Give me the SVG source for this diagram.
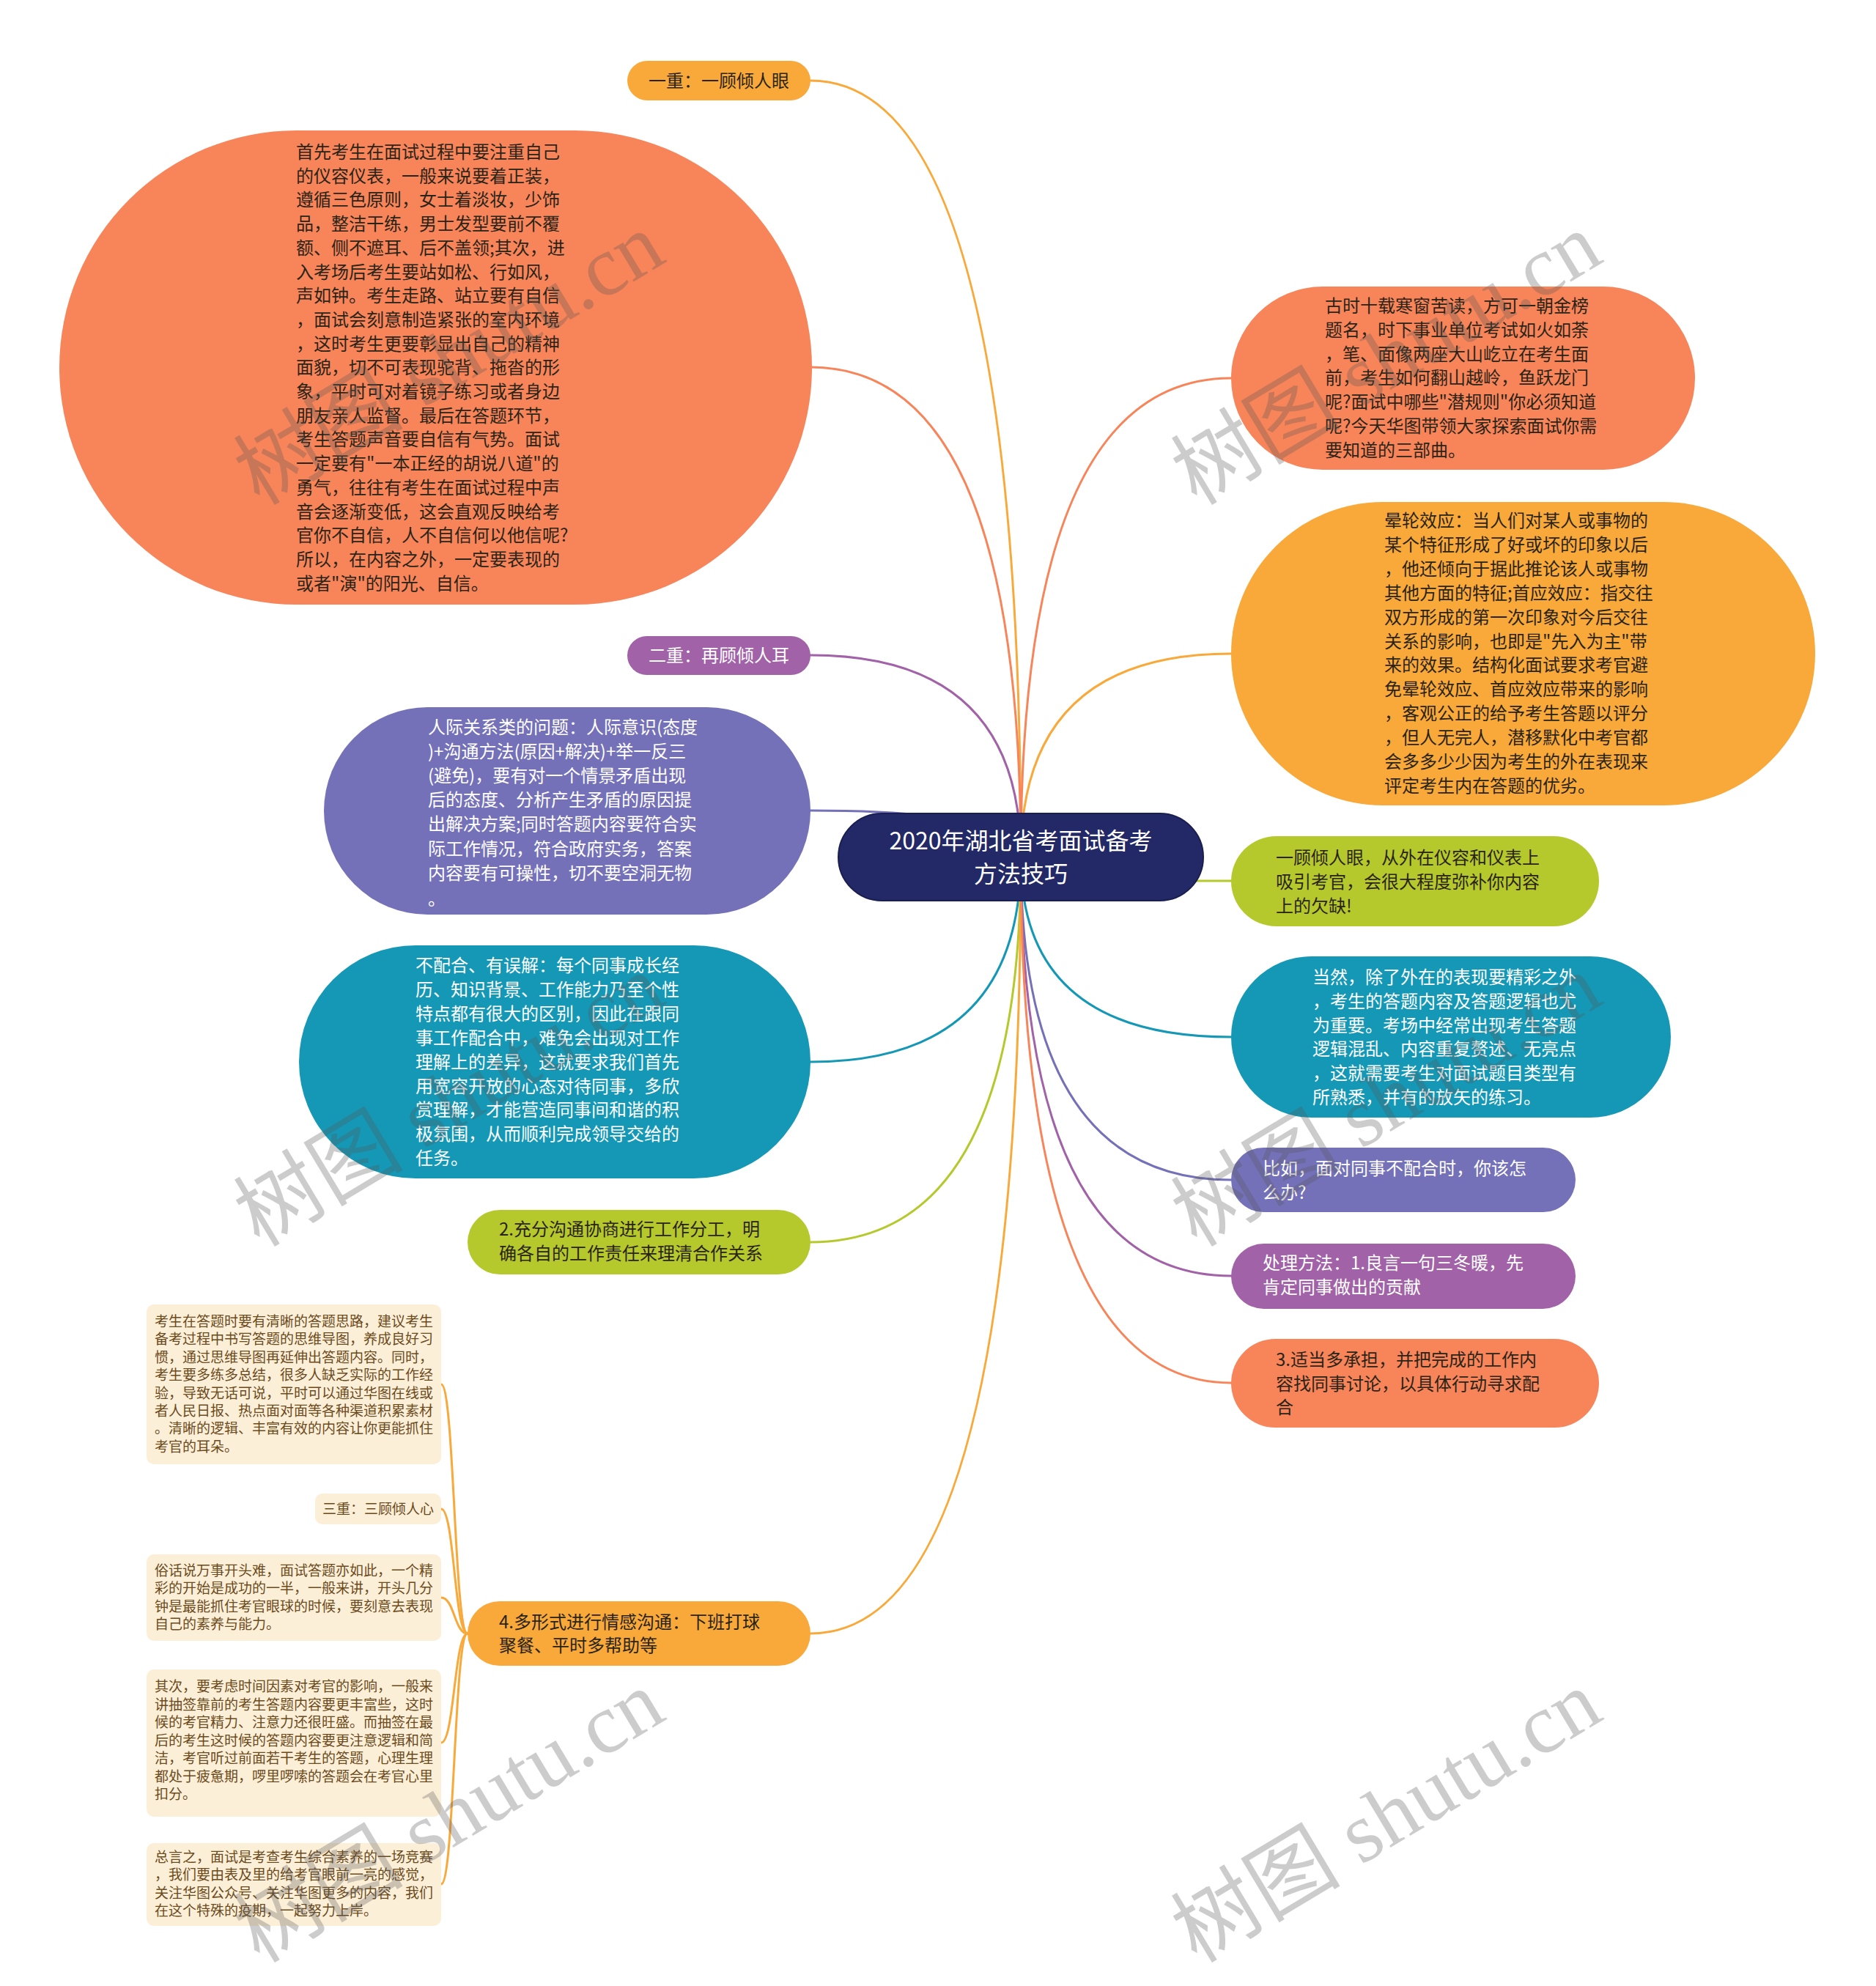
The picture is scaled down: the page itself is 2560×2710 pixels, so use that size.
<svg xmlns="http://www.w3.org/2000/svg" width="2560" height="2710" viewBox="0 0 2560 2710">
<style>
text{font-family:"Noto Sans CJK SC","Noto Sans",sans-serif}
.t24{font-size:24px}
.t19{font-size:19px}
.t32{font-size:32px}
.dk{fill:#2a2418}
.wt{fill:#ffffff}
.br{fill:#6b4a1c}
.c{fill:none;stroke-width:3;stroke-linecap:round}
.coral{fill:#F8845A}
.orng{fill:#F9A93A}
.lime{fill:#B6C92C}
.teal{fill:#1598B6}
.indi{fill:#7471B9}
.magn{fill:#A162A8}
.beige{fill:#FCEFD8}
.wm{font-family:"Liberation Serif","Noto Sans CJK SC",serif;font-size:116px;fill:#555;fill-opacity:0.3}
</style>
<rect width="2560" height="2710" fill="#ffffff"/>
<g id="connectors">
<path class="c" stroke="#F9A93A" d="M1393,1170 Q1393,110 1106,110"/>
<path class="c" stroke="#F8845A" d="M1393,1170 Q1393,501 1106,501"/>
<path class="c" stroke="#A162A8" d="M1393,1170 Q1393,894 1106,894"/>
<path class="c" stroke="#7471B9" d="M1393,1170 Q1393,1106 1106,1106"/>
<path class="c" stroke="#1598B6" d="M1393,1170 Q1393,1449 1106,1449"/>
<path class="c" stroke="#B6C92C" d="M1393,1170 Q1393,1695 1106,1695"/>
<path class="c" stroke="#F9A93A" d="M1393,1170 Q1393,2229 1106,2229"/>
<path class="c" stroke="#F8845A" d="M1393,1170 Q1393,516 1680,516"/>
<path class="c" stroke="#F9A93A" d="M1393,1170 Q1393,892 1680,892"/>
<path class="c" stroke="#B6C92C" d="M1393,1170 Q1393,1202 1680,1202"/>
<path class="c" stroke="#1598B6" d="M1393,1170 Q1393,1415 1680,1415"/>
<path class="c" stroke="#7471B9" d="M1393,1170 Q1393,1610 1680,1610"/>
<path class="c" stroke="#A162A8" d="M1393,1170 Q1393,1741 1680,1741"/>
<path class="c" stroke="#F8845A" d="M1393,1170 Q1393,1887 1680,1887"/>
<path class="c" stroke="#F9A93A" stroke-width="2.5" d="M602,1889 C620,1889 620,2229 638,2229"/>
<path class="c" stroke="#F9A93A" stroke-width="2.5" d="M602,2059 C620,2059 620,2229 638,2229"/>
<path class="c" stroke="#F9A93A" stroke-width="2.5" d="M602,2180 C620,2180 620,2229 638,2229"/>
<path class="c" stroke="#F9A93A" stroke-width="2.5" d="M602,2378 C620,2378 620,2229 638,2229"/>
<path class="c" stroke="#F9A93A" stroke-width="2.5" d="M602,2571 C620,2571 620,2229 638,2229"/>
</g>
<g id="center">
<rect x="1144" y="1110" width="498" height="119" rx="59.5" fill="#232966" stroke="#1a1f50" stroke-width="2"/>
<text class="t32 wt" text-anchor="middle"><tspan x="1393" y="1159">2020年湖北省考面试备考</tspan><tspan x="1393" y="1204">方法技巧</tspan></text>
</g>
<g id="n-yizhong">
<rect class="orng" x="856" y="83" width="250" height="54" rx="27"/>
<text class="t24 dk" text-anchor="middle" x="981" y="119">一重：一顾倾人眼</text>
</g>
<g id="n-yirong">
<rect class="coral" x="81" y="178" width="1027" height="647" rx="323.5"/>
<text class="t24 dk"><tspan x="404" y="216">首先考生在面试过程中要注重自己</tspan><tspan x="404" dy="32.7">的仪容仪表，一般来说要着正装，</tspan><tspan x="404" dy="32.7">遵循三色原则，女士着淡妆，少饰</tspan><tspan x="404" dy="32.7">品，整洁干练，男士发型要前不覆</tspan><tspan x="404" dy="32.7">额、侧不遮耳、后不盖领;其次，进</tspan><tspan x="404" dy="32.7">入考场后考生要站如松、行如风，</tspan><tspan x="404" dy="32.7">声如钟。考生走路、站立要有自信</tspan><tspan x="404" dy="32.7">，面试会刻意制造紧张的室内环境</tspan><tspan x="404" dy="32.7">，这时考生更要彰显出自己的精神</tspan><tspan x="404" dy="32.7">面貌，切不可表现驼背、拖沓的形</tspan><tspan x="404" dy="32.7">象，平时可对着镜子练习或者身边</tspan><tspan x="404" dy="32.7">朋友亲人监督。最后在答题环节，</tspan><tspan x="404" dy="32.7">考生答题声音要自信有气势。面试</tspan><tspan x="404" dy="32.7">一定要有"一本正经的胡说八道"的</tspan><tspan x="404" dy="32.7">勇气，往往有考生在面试过程中声</tspan><tspan x="404" dy="32.7">音会逐渐变低，这会直观反映给考</tspan><tspan x="404" dy="32.7">官你不自信，人不自信何以他信呢?</tspan><tspan x="404" dy="32.7">所以，在内容之外，一定要表现的</tspan><tspan x="404" dy="32.7">或者"演"的阳光、自信。</tspan></text>
</g>
<g id="n-erzhong">
<rect class="magn" x="856" y="868" width="250" height="53" rx="26.5"/>
<text class="t24 wt" text-anchor="middle" x="981" y="903">二重：再顾倾人耳</text>
</g>
<g id="n-renji">
<rect class="indi" x="442" y="965" width="664" height="283" rx="141.5"/>
<text class="t24 wt"><tspan x="584" y="1001">人际关系类的问题：人际意识(态度</tspan><tspan x="584" dy="33.1">)+沟通方法(原因+解决)+举一反三</tspan><tspan x="584" dy="33.1">(避免)，要有对一个情景矛盾出现</tspan><tspan x="584" dy="33.1">后的态度、分析产生矛盾的原因提</tspan><tspan x="584" dy="33.1">出解决方案;同时答题内容要符合实</tspan><tspan x="584" dy="33.1">际工作情况，符合政府实务，答案</tspan><tspan x="584" dy="33.1">内容要有可操性，切不要空洞无物</tspan><tspan x="584" dy="35">。</tspan></text>
</g>
<g id="n-bupeihe">
<rect class="teal" x="408" y="1290" width="698" height="318" rx="159"/>
<text class="t24 wt"><tspan x="567" y="1326">不配合、有误解：每个同事成长经</tspan><tspan x="567" dy="32.9">历、知识背景、工作能力乃至个性</tspan><tspan x="567" dy="32.9">特点都有很大的区别，因此在跟同</tspan><tspan x="567" dy="32.9">事工作配合中，难免会出现对工作</tspan><tspan x="567" dy="32.9">理解上的差异，这就要求我们首先</tspan><tspan x="567" dy="32.9">用宽容开放的心态对待同事，多欣</tspan><tspan x="567" dy="32.9">赏理解，才能营造同事间和谐的积</tspan><tspan x="567" dy="32.9">极氛围，从而顺利完成领导交给的</tspan><tspan x="567" dy="32.9">任务。</tspan></text>
</g>
<g id="n-chongfen">
<rect class="lime" x="638" y="1651" width="468" height="88" rx="44"/>
<text class="t24 dk"><tspan x="681" y="1686">2.充分沟通协商进行工作分工，明</tspan><tspan x="681" dy="33">确各自的工作责任来理清合作关系</tspan></text>
</g>
<g id="n-duoxingshi">
<rect class="orng" x="638" y="2185" width="468" height="88" rx="44"/>
<text class="t24 dk"><tspan x="681" y="2222">4.多形式进行情感沟通：下班打球</tspan><tspan x="681" dy="32">聚餐、平时多帮助等</tspan></text>
</g>
<g id="n-gushi">
<rect class="coral" x="1680" y="391" width="633" height="250" rx="125"/>
<text class="t24 dk"><tspan x="1808" y="426">古时十载寒窗苦读，方可一朝金榜</tspan><tspan x="1808" dy="32.8">题名，时下事业单位考试如火如荼</tspan><tspan x="1808" dy="32.8">，笔、面像两座大山屹立在考生面</tspan><tspan x="1808" dy="32.8">前，考生如何翻山越岭，鱼跃龙门</tspan><tspan x="1808" dy="32.8">呢?面试中哪些"潜规则"你必须知道</tspan><tspan x="1808" dy="32.8">呢?今天华图带领大家探索面试你需</tspan><tspan x="1808" dy="32.8">要知道的三部曲。</tspan></text>
</g>
<g id="n-yunlun">
<rect class="orng" x="1680" y="685" width="797" height="414" rx="207"/>
<text class="t24 dk"><tspan x="1889" y="719">晕轮效应：当人们对某人或事物的</tspan><tspan x="1889" dy="32.9">某个特征形成了好或坏的印象以后</tspan><tspan x="1889" dy="32.9">，他还倾向于据此推论该人或事物</tspan><tspan x="1889" dy="32.9">其他方面的特征;首应效应：指交往</tspan><tspan x="1889" dy="32.9">双方形成的第一次印象对今后交往</tspan><tspan x="1889" dy="32.9">关系的影响，也即是"先入为主"带</tspan><tspan x="1889" dy="32.9">来的效果。结构化面试要求考官避</tspan><tspan x="1889" dy="32.9">免晕轮效应、首应效应带来的影响</tspan><tspan x="1889" dy="32.9">，客观公正的给予考生答题以评分</tspan><tspan x="1889" dy="32.9">，但人无完人，潜移默化中考官都</tspan><tspan x="1889" dy="32.9">会多多少少因为考生的外在表现来</tspan><tspan x="1889" dy="32.9">评定考生内在答题的优劣。</tspan></text>
</g>
<g id="n-yigu">
<rect class="lime" x="1680" y="1141" width="502" height="123" rx="61.5"/>
<text class="t24 dk"><tspan x="1741" y="1179">一顾倾人眼，从外在仪容和仪表上</tspan><tspan x="1741" dy="33">吸引考官，会很大程度弥补你内容</tspan><tspan x="1741" dy="33">上的欠缺!</tspan></text>
</g>
<g id="n-dangran">
<rect class="teal" x="1680" y="1305" width="600" height="220" rx="110"/>
<text class="t24 wt"><tspan x="1791" y="1342">当然，除了外在的表现要精彩之外</tspan><tspan x="1791" dy="32.8">，考生的答题内容及答题逻辑也尤</tspan><tspan x="1791" dy="32.8">为重要。考场中经常出现考生答题</tspan><tspan x="1791" dy="32.8">逻辑混乱、内容重复赘述、无亮点</tspan><tspan x="1791" dy="32.8">，这就需要考生对面试题目类型有</tspan><tspan x="1791" dy="32.8">所熟悉，并有的放矢的练习。</tspan></text>
</g>
<g id="n-biru">
<rect class="indi" x="1680" y="1566" width="470" height="88" rx="44"/>
<text class="t24 wt"><tspan x="1723" y="1603">比如，面对同事不配合时，你该怎</tspan><tspan x="1723" dy="33">么办?</tspan></text>
</g>
<g id="n-chuli">
<rect class="magn" x="1680" y="1697" width="470" height="89" rx="44.5"/>
<text class="t24 wt"><tspan x="1723" y="1732">处理方法：1.良言一句三冬暖，先</tspan><tspan x="1723" dy="33">肯定同事做出的贡献</tspan></text>
</g>
<g id="n-shidang">
<rect class="coral" x="1680" y="1827" width="502" height="121" rx="60.5"/>
<text class="t24 dk"><tspan x="1741" y="1864">3.适当多承担，并把完成的工作内</tspan><tspan x="1741" dy="32.7">容找同事讨论，以具体行动寻求配</tspan><tspan x="1741" dy="32.7">合</tspan></text>
</g>
<g id="n-kaosheng">
<rect class="beige" x="200" y="1780" width="402" height="218" rx="10"/>
<text class="t19 br"><tspan x="211" y="1810">考生在答题时要有清晰的答题思路，建议考生</tspan><tspan x="211" dy="24.4">备考过程中书写答题的思维导图，养成良好习</tspan><tspan x="211" dy="24.4">惯，通过思维导图再延伸出答题内容。同时，</tspan><tspan x="211" dy="24.4">考生要多练多总结，很多人缺乏实际的工作经</tspan><tspan x="211" dy="24.4">验，导致无话可说，平时可以通过华图在线或</tspan><tspan x="211" dy="24.4">者人民日报、热点面对面等各种渠道积累素材</tspan><tspan x="211" dy="24.4">。清晰的逻辑、丰富有效的内容让你更能抓住</tspan><tspan x="211" dy="24.4">考官的耳朵。</tspan></text>
</g>
<g id="n-sanzhong">
<rect class="beige" x="430" y="2038" width="172" height="42" rx="10"/>
<text class="t19 br" text-anchor="middle" x="516" y="2066">三重：三顾倾人心</text>
</g>
<g id="n-suhua">
<rect class="beige" x="200" y="2121" width="402" height="118" rx="10"/>
<text class="t19 br"><tspan x="211" y="2150">俗话说万事开头难，面试答题亦如此，一个精</tspan><tspan x="211" dy="24.4">彩的开始是成功的一半，一般来讲，开头几分</tspan><tspan x="211" dy="24.4">钟是最能抓住考官眼球的时候，要刻意去表现</tspan><tspan x="211" dy="24.4">自己的素养与能力。</tspan></text>
</g>
<g id="n-qici">
<rect class="beige" x="200" y="2278" width="402" height="201" rx="10"/>
<text class="t19 br"><tspan x="211" y="2308">其次，要考虑时间因素对考官的影响，一般来</tspan><tspan x="211" dy="24.5">讲抽签靠前的考生答题内容要更丰富些，这时</tspan><tspan x="211" dy="24.5">候的考官精力、注意力还很旺盛。而抽签在最</tspan><tspan x="211" dy="24.5">后的考生这时候的答题内容要更注意逻辑和简</tspan><tspan x="211" dy="24.5">洁，考官听过前面若干考生的答题，心理生理</tspan><tspan x="211" dy="24.5">都处于疲惫期，啰里啰嗦的答题会在考官心里</tspan><tspan x="211" dy="24.5">扣分。</tspan></text>
</g>
<g id="n-zongyan">
<rect class="beige" x="200" y="2515" width="402" height="113" rx="10"/>
<text class="t19 br"><tspan x="211" y="2541">总言之，面试是考查考生综合素养的一场竞赛</tspan><tspan x="211" dy="24.3">，我们要由表及里的给考官眼前一亮的感觉，</tspan><tspan x="211" dy="24.3">关注华图公众号、关注华图更多的内容，我们</tspan><tspan x="211" dy="24.3">在这个特殊的疫期，一起努力上岸。</tspan></text>
</g>
<g id="watermarks">
<text class="wm" x="354" y="691" transform="rotate(-31 354 691)">树图 shutu.cn</text>
<text class="wm" x="1633" y="691" transform="rotate(-31 1633 691)">树图 shutu.cn</text>
<text class="wm" x="354" y="1703" transform="rotate(-31 354 1703)">树图 shutu.cn</text>
<text class="wm" x="1633" y="1703" transform="rotate(-31 1633 1703)">树图 shutu.cn</text>
<text class="wm" x="354" y="2680" transform="rotate(-31 354 2680)">树图 shutu.cn</text>
<text class="wm" x="1633" y="2680" transform="rotate(-31 1633 2680)">树图 shutu.cn</text>
</g>
</svg>
